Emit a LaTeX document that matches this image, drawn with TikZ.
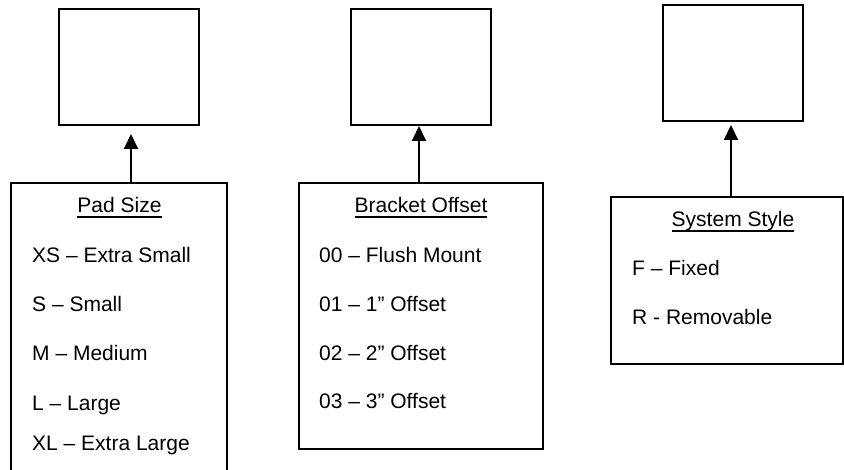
\documentclass[tikz,border=0pt]{standalone}
\usepackage{fontspec}
\setmainfont{Liberation Sans}
\usetikzlibrary{arrows.meta}
\newcommand{\ulin}[1]{\setbox0\hbox{#1}\rlap{\rule[-4.8pt]{\wd0}{1.6pt}}\box0}
\tikzset{
  box/.style={draw, line width=2pt, inner sep=0pt},
  lbl/.style={inner sep=0pt, font=\fontsize{21pt}{25pt}\selectfont},
  item/.style={lbl, anchor=base west},
  ttl/.style={lbl, anchor=base},
  arr/.style={line width=2pt, -{Triangle[length=15pt,width=14pt]}}
}
\begin{document}
\begin{tikzpicture}[x=1pt,y=-1pt]
\useasboundingbox (0,0) rectangle (844,470);
\clip (0,0) rectangle (844,470);
% top boxes
\node[box, minimum width=140pt, minimum height=116pt] (b1) at (129,67) {};
\node[box, minimum width=140pt, minimum height=116pt] (b2) at (421,67) {};
\node[box, minimum width=140pt, minimum height=116pt] (b3) at (733,63) {};
% bottom boxes
\node[box, minimum width=216pt, minimum height=297pt] (p1) at (119,331.5) {};
\node[box, minimum width=244pt, minimum height=266pt] (p2) at (421,316) {};
\node[box, minimum width=232pt, minimum height=167pt] (p3) at (727,280.5) {};
% arrow positions
\coordinate (a1) at (131,0);
\coordinate (a2) at (419,0);
\coordinate (a3) at (731,0);
\draw[arr, shorten >=8pt] (p1.north -| a1) -- (b1.south -| a1);
\draw[arr] (p2.north -| a2) -- (b2.south -| a2);
\draw[arr, shorten >=3pt] (p3.north -| a3) -- (b3.south -| a3);
% Pad Size
\node[ttl] (t1) at (119.5,213) {\ulin{Pad Size}};
\node[item] (i11) at (32,263) {XS – Extra Small};
\node[item] (i12) at (32,312) {S – Small};
\node[item] (i13) at (32,361) {M – Medium};
\node[item] (i14) at (32,410) {L – Large};
\node[item] (i15) at (32,450) {XL – Extra Large};
% Bracket Offset
\node[ttl] (t2) at (421,213) {\ulin{Bracket Offset}};
\node[item] (i21) at (319,263) {00 – Flush Mount};
\node[item] (i22) at (319,312) {01 – 1” Offset};
\node[item] (i23) at (319,361) {02 – 2” Offset};
\node[item] (i24) at (319,409) {03 – 3” Offset};
% System Style
\node[ttl] (t3) at (733,227) {\ulin{System Style}};
\node[item] (i31) at (632,276) {F – Fixed};
\node[item] (i32) at (632,325) {R - Removable};
\end{tikzpicture}
\end{document}
